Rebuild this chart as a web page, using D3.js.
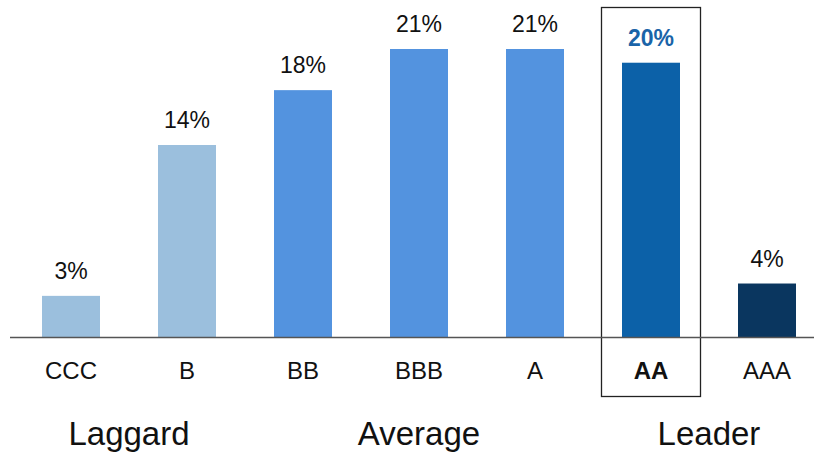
<!DOCTYPE html>
<html><head><meta charset="utf-8">
<script src="https://cdn.jsdelivr.net/npm/d3@7"></script>
<style>body{margin:0;background:#fff}svg{display:block}text{font-family:"Liberation Sans",Arial,Helvetica,sans-serif}</style>
</head><body>
<svg id="c" width="814" height="452"></svg>
<script>
const categories = ["CCC","B","BB","BBB","A","AA","AAA"];
const values = [3, 14, 18, 21, 21, 20, 3.9];
const valueLabels = ["3%","14%","18%","21%","21%","20%","4%"];
const colors = ["#9bbfdd","#9bbfdd","#5393df","#5393df","#5393df","#0c61a8","#0a365f"];
const groups = [{name:"Laggard", from:"CCC", to:"B"},{name:"Average", from:"BBB", to:"BBB"},{name:"Leader", from:"AA", to:"AAA"}];
const highlight = "AA";

const svg = d3.select("#c");
const baseY = 337;
const x = d3.scaleBand().domain(categories).range([13, 825]).paddingInner(0.5).paddingOuter(0.25);
const y = d3.scaleLinear().domain([0, 21]).range([baseY, 49]);

// highlight box
const hx = x(highlight);
svg.append("rect").attr("x", hx - 20.5).attr("y", 7.5).attr("width", x.bandwidth() + 41).attr("height", 389)
  .attr("fill","none").attr("stroke","#222").attr("stroke-width",1.3);

svg.selectAll("rect.bar").data(categories).enter().append("rect").attr("class","bar")
  .attr("x", d => x(d)).attr("width", x.bandwidth())
  .attr("y", (d,i) => y(values[i])).attr("height", (d,i) => baseY - y(values[i]))
  .attr("fill", (d,i) => colors[i]);

svg.append("line").attr("x1",10).attr("x2",814).attr("y1",baseY+0.5).attr("y2",baseY+0.5)
  .attr("stroke","#555").attr("stroke-width",1.4);

svg.selectAll("text.val").data(categories).enter().append("text").attr("class","val")
  .attr("x", d => x(d) + x.bandwidth()/2).attr("y", (d,i) => y(values[i]) - 17)
  .attr("text-anchor","middle").attr("font-size",23)
  .attr("fill", d => d === highlight ? "#1a64a8" : "#111")
  .attr("font-weight", d => d === highlight ? "bold" : "normal")
  .text((d,i) => valueLabels[i]);

svg.selectAll("text.cat").data(categories).enter().append("text").attr("class","cat")
  .attr("x", d => x(d) + x.bandwidth()/2).attr("y", 379)
  .attr("text-anchor","middle").attr("font-size",24).attr("fill","#111")
  .attr("font-weight", d => d === highlight ? "bold" : "normal")
  .text(d => d);

svg.selectAll("text.grp").data(groups).enter().append("text").attr("class","grp")
  .attr("x", g => (x(g.from) + x(g.to) + x.bandwidth())/2).attr("y", 445)
  .attr("text-anchor","middle").attr("font-size",33).attr("fill","#111")
  .text(g => g.name);
</script>
</body></html>
